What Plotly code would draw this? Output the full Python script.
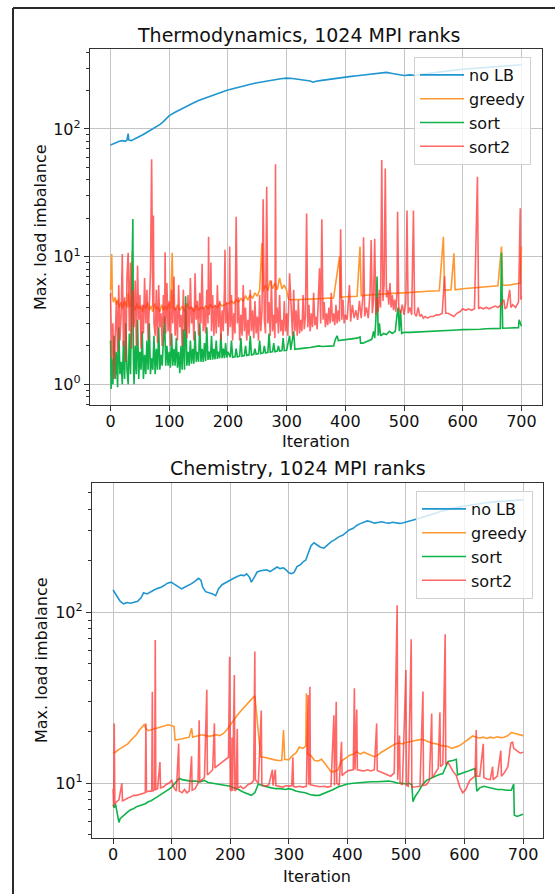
import plotly.graph_objects as go

W, H = 555, 894

# ---------------- data: Thermodynamics (top) ----------------
iters_ticks = [0, 100, 200, 300, 400, 500, 600, 700]

top_nolb = [(0, 75), (5, 77), (10, 78), (15, 80), (20, 81), (25, 80), (28, 82), (30, 92), (31, 82), (35, 81),
            (40, 83), (45, 85), (50, 87), (55, 90), (60, 93), (65, 96), (70, 100), (75, 103), (80, 105),
            (85, 109), (90, 114), (95, 120), (100, 127), (110, 135), (120, 143), (130, 151), (140, 159),
            (150, 167), (160, 174), (170, 181), (180, 188), (190, 195), (200, 202), (210, 208), (220, 214),
            (230, 220), (240, 225), (250, 230), (260, 235), (270, 239), (280, 243), (290, 247), (300, 250),
            (310, 248), (320, 245), (330, 241), (340, 237), (345, 232), (350, 236), (360, 240), (370, 244),
            (380, 248), (390, 252), (400, 256), (410, 258), (420, 261), (430, 264), (440, 267), (450, 270),
            (460, 273), (470, 277), (480, 272), (490, 266), (500, 262), (510, 265), (520, 262), (530, 268),
            (540, 272), (550, 276), (560, 280), (570, 283), (580, 287), (590, 290), (600, 293), (620, 298),
            (640, 303), (660, 308), (680, 313), (700, 318)]

top_greedy = [(0, 5.5), (2, 10.5), (3, 5.0), (5, 4.4), (8, 4.8), (10, 4.2), (12, 4.6), (15, 4.0), (18, 4.4),
              (20, 3.9), (24, 4.5), (28, 4.0), (30, 5.2), (32, 4.0), (35, 4.3), (37, 11.0), (39, 4.2),
              (42, 3.8), (45, 4.3), (48, 3.9), (51, 4.1), (54, 3.7), (57, 4.2), (60, 3.9), (63, 4.4),
              (66, 3.8), (69, 4.1), (72, 3.7), (75, 4.3), (78, 3.9), (81, 4.0), (84, 3.7), (87, 4.2),
              (90, 3.8), (93, 4.1), (96, 3.8), (99, 4.3), (102, 3.9), (105, 10.7), (107, 4.0), (110, 3.8),
              (114, 4.2), (118, 3.8), (122, 4.1), (126, 3.7), (130, 4.3), (134, 3.9), (138, 4.0), (142, 3.7),
              (146, 4.2), (150, 3.8), (154, 4.0), (158, 3.9), (162, 4.1), (166, 3.9), (170, 4.2), (174, 4.0),
              (178, 4.1), (182, 4.0), (186, 4.3), (190, 4.1), (194, 4.2), (198, 4.3), (202, 4.3), (206, 4.5),
              (210, 4.3), (214, 4.6), (218, 4.4), (222, 4.7), (226, 4.5), (230, 4.9), (234, 4.6), (238, 5.0),
              (242, 4.7), (246, 5.2), (250, 4.9), (254, 5.5), (258, 12.8), (260, 5.3), (264, 6.0), (268, 5.4),
              (272, 6.5), (276, 5.6), (280, 6.2), (284, 5.5), (288, 6.8), (292, 5.6), (296, 6.0), (300, 5.4),
              (303, 4.7), (306, 4.6), (310, 4.6), (320, 4.6), (340, 4.65), (360, 4.7), (380, 4.75),
              (390, 10.0), (392, 4.8), (400, 4.85), (420, 4.9), (425, 12.0), (427, 4.95), (440, 5.0),
              (460, 5.1), (480, 5.15), (500, 5.2), (520, 5.3), (540, 5.35), (560, 5.4), (567, 14.3),
              (569, 5.45), (580, 5.5), (585, 10.6), (587, 5.5), (600, 5.6), (620, 5.7), (640, 5.8),
              (660, 5.9), (666, 12.0), (668, 5.95), (680, 6.0), (690, 6.1), (698, 6.2), (700, 12.0)]

top_sort = [(0, 2.2), (1, 0.92), (2, 1.6), (4, 1.0), (6, 2.4), (8, 1.1), (10, 1.8), (12, 0.95), (14, 2.8),
            (16, 1.2), (18, 1.5), (20, 1.0), (22, 2.2), (24, 1.1), (26, 3.0), (28, 1.3), (30, 1.0), (32, 2.5),
            (34, 1.2), (36, 4.8), (38, 19.7), (39, 1.5), (40, 1.0), (42, 2.0), (44, 1.2), (46, 3.2), (48, 1.1),
            (50, 1.8), (52, 1.3), (54, 2.6), (56, 1.1), (58, 1.7), (60, 1.2), (62, 2.2), (64, 1.3), (66, 3.0),
            (68, 1.2), (70, 1.6), (72, 1.3), (74, 2.4), (76, 1.2), (78, 1.9), (80, 1.3), (82, 2.8), (84, 1.3),
            (86, 1.7), (88, 1.4), (90, 2.2), (92, 3.4), (94, 1.4), (96, 2.0), (98, 1.4), (100, 1.8),
            (102, 1.35), (104, 2.5), (106, 1.4), (108, 1.9), (110, 1.4), (112, 2.3), (114, 1.35), (116, 1.8),
            (118, 1.22), (120, 2.0), (122, 1.3), (124, 2.7), (126, 1.3), (128, 4.9), (130, 1.4), (132, 1.8),
            (134, 1.4), (136, 2.2), (138, 1.45), (140, 1.9), (142, 1.45), (144, 2.6), (146, 1.5), (148, 1.8),
            (150, 1.5), (152, 3.0), (154, 1.5), (156, 1.9), (158, 1.5), (160, 2.1), (162, 1.52), (164, 2.8),
            (166, 1.55), (168, 1.8), (170, 1.55), (172, 2.4), (174, 1.56), (176, 1.9), (178, 1.57),
            (180, 2.2), (182, 1.58), (184, 1.8), (186, 1.6), (188, 2.5), (190, 1.6), (192, 1.9), (194, 1.6),
            (196, 2.1), (198, 1.62), (200, 1.8), (204, 1.63), (206, 2.2), (208, 1.63), (212, 1.64),
            (214, 1.9), (216, 1.64), (220, 1.66), (222, 2.3), (224, 1.66), (228, 1.68), (230, 2.0),
            (232, 1.68), (236, 1.7), (238, 2.4), (240, 1.7), (244, 1.72), (246, 1.9), (248, 1.72),
            (252, 1.74), (254, 2.2), (256, 1.74), (260, 1.76), (262, 2.0), (264, 1.76), (268, 1.78),
            (270, 2.5), (272, 1.78), (276, 1.8), (278, 2.1), (280, 1.8), (284, 1.82), (286, 2.0), (288, 1.82),
            (292, 1.84), (294, 2.3), (296, 1.84), (300, 1.85), (305, 2.4), (307, 1.86), (312, 2.6),
            (314, 1.88), (320, 1.9), (330, 1.92), (340, 1.94), (350, 1.97), (355, 2.0), (360, 1.98),
            (370, 2.0), (380, 2.0), (383, 2.25), (386, 2.4), (388, 2.2), (395, 2.22), (400, 2.25),
            (410, 2.28), (420, 2.3), (425, 2.35), (426, 2.1), (430, 2.1), (435, 2.15), (440, 2.18),
            (445, 2.25), (448, 2.6), (450, 2.3), (452, 3.2), (454, 7.0), (456, 2.4), (458, 3.0), (460, 2.4),
            (465, 2.5), (470, 2.45), (475, 2.6), (480, 2.5), (485, 2.6), (488, 3.5), (490, 4.0), (492, 2.6),
            (494, 3.8), (496, 2.5), (500, 2.55), (510, 2.55), (520, 2.56), (530, 2.58), (540, 2.6),
            (550, 2.6), (560, 2.62), (570, 2.64), (580, 2.65), (590, 2.66), (600, 2.68), (610, 2.68),
            (620, 2.7), (630, 2.7), (640, 2.72), (650, 2.72), (660, 2.74), (664, 2.74), (666, 10.7),
            (668, 2.75), (680, 2.76), (690, 2.76), (695, 2.78), (696, 3.2), (698, 3.0), (700, 2.85)]

top_sort2 = [(0, 5.2), (2, 1.6), (4, 3.0), (6, 1.1), (8, 2.4), (10, 4.5), (12, 1.8), (14, 6.0), (16, 2.2),
             (18, 3.5), (20, 10.5), (22, 2.0), (24, 4.8), (26, 1.5), (28, 7.0), (30, 10.7), (32, 2.6),
             (34, 9.0), (36, 1.9), (38, 5.5), (40, 2.8), (42, 6.5), (44, 2.0), (46, 8.5), (48, 3.2), (50, 5.0),
             (52, 1.9), (54, 4.2), (56, 2.5), (58, 6.8), (60, 3.0), (62, 5.5), (64, 2.2), (66, 4.0), (68, 7.5),
             (70, 57.8), (72, 4.0), (73, 21.0), (74, 3.0), (76, 2.4), (78, 5.5), (80, 2.1), (82, 6.0),
             (84, 2.8), (86, 3.6), (88, 2.0), (90, 5.0), (92, 3.0), (93, 10.8), (94, 2.5), (96, 6.2),
             (98, 2.6), (100, 4.5), (102, 2.0), (104, 5.5), (106, 3.0), (108, 7.0), (110, 2.4), (112, 4.0),
             (114, 2.2), (116, 6.0), (118, 2.8), (120, 3.5), (122, 2.0), (124, 5.5), (126, 2.6), (128, 4.2),
             (130, 2.3), (132, 5.0), (134, 2.5), (136, 6.8), (138, 3.0), (140, 4.0), (142, 2.2), (144, 7.4),
             (146, 3.2), (148, 4.5), (150, 2.4), (152, 5.2), (154, 3.0), (156, 8.8), (158, 2.6), (160, 4.0),
             (162, 2.5), (164, 5.5), (166, 3.0), (167, 14.3), (168, 3.5), (170, 4.8), (171, 9.0), (172, 2.6),
             (174, 5.0), (176, 2.4), (178, 4.2), (180, 2.5), (182, 6.0), (184, 2.8), (186, 4.5), (188, 2.2),
             (190, 3.8), (192, 2.6), (194, 5.5), (195, 11.3), (196, 3.0), (198, 4.4), (200, 2.4), (202, 4.0),
             (203, 12.0), (204, 2.8), (206, 5.0), (208, 2.2), (210, 3.6), (212, 2.5), (214, 20.5), (216, 3.0),
             (218, 4.8), (220, 2.2), (222, 3.5), (224, 2.4), (226, 6.0), (228, 2.6), (230, 4.0), (232, 2.2),
             (234, 3.2), (236, 2.4), (238, 5.5), (240, 2.6), (242, 3.8), (244, 2.3), (246, 4.5), (248, 2.5),
             (250, 3.4), (252, 2.2), (254, 5.0), (256, 2.6), (258, 3.8), (260, 28.1), (262, 3.2), (264, 2.5),
             (266, 35.2), (268, 3.0), (270, 4.4), (272, 2.4), (274, 6.5), (276, 2.6), (278, 3.5), (280, 2.3),
             (281, 53.0), (282, 3.0), (284, 4.0), (286, 2.5), (288, 5.0), (290, 2.6), (292, 3.2), (294, 2.4),
             (296, 4.5), (298, 2.6), (300, 3.6), (302, 2.4), (305, 7.4), (308, 3.0), (310, 2.4), (312, 5.5),
             (314, 2.6), (316, 3.8), (318, 2.4), (320, 4.6), (322, 2.5), (324, 3.2), (326, 2.6), (328, 5.0),
             (330, 2.7), (332, 3.4), (334, 21.8), (336, 2.8), (338, 4.2), (340, 2.6), (342, 3.6), (344, 2.8),
             (346, 5.2), (348, 2.9), (350, 3.4), (352, 2.7), (354, 4.8), (356, 8.1), (358, 3.0), (360, 19.6),
             (362, 3.2), (364, 4.4), (366, 2.8), (368, 3.6), (370, 2.9), (372, 4.0), (374, 3.0), (376, 5.2),
             (378, 3.1), (380, 3.6), (382, 2.9), (384, 4.2), (386, 3.0), (388, 3.8), (390, 3.1), (392, 16.4),
             (394, 3.2), (396, 4.6), (398, 3.0), (400, 3.5), (403, 3.2), (406, 5.0), (407, 6.0), (409, 3.1),
             (412, 4.2), (415, 3.3), (418, 3.8), (421, 3.2), (424, 4.5), (427, 3.3), (430, 5.0), (431, 14.2),
             (433, 3.4), (436, 4.0), (439, 3.3), (442, 5.2), (444, 13.5), (446, 3.6), (448, 4.6), (450, 13.8),
             (452, 3.5), (454, 4.8), (456, 3.7), (458, 5.5), (460, 4.0), (462, 57.0), (464, 4.5), (466, 6.0),
             (468, 49.0), (470, 4.8), (472, 5.5), (474, 4.2), (476, 6.2), (478, 4.0), (480, 5.0), (482, 3.8),
             (484, 4.6), (486, 3.7), (488, 5.2), (489, 22.5), (491, 4.0), (494, 3.6), (497, 4.2), (500, 3.5),
             (503, 4.4), (505, 23.0), (507, 3.6), (510, 4.0), (513, 3.5), (516, 23.0), (518, 3.6), (521, 3.4),
             (524, 4.0), (527, 3.4), (530, 3.5), (533, 3.3), (536, 3.4), (540, 3.3), (545, 3.4), (550, 3.4),
             (555, 3.5), (560, 3.5), (565, 3.6), (569, 7.0), (571, 3.6), (575, 3.6), (580, 3.5), (585, 3.4),
             (590, 3.6), (595, 3.7), (600, 3.9), (605, 3.8), (610, 3.9), (615, 3.8), (620, 3.9), (625, 42.2),
             (627, 3.9), (630, 4.0), (635, 3.9), (640, 4.0), (645, 3.9), (650, 4.0), (655, 4.1), (660, 4.0),
             (665, 4.2), (670, 4.6), (672, 3.9), (675, 4.0), (680, 5.5), (682, 4.0), (685, 4.2), (690, 4.0),
             (695, 4.4), (698, 23.9), (699, 4.6), (700, 4.9)]

# ---------------- data: Chemistry (bottom) ----------------
bot_nolb = [(0, 135), (4, 128), (8, 121), (12, 116), (18, 112), (24, 114), (30, 113), (36, 115), (42, 116),
            (48, 122), (52, 130), (58, 128), (64, 132), (70, 135), (76, 138), (82, 140), (88, 144), (93, 148),
            (99, 150), (104, 146), (110, 141), (117, 137), (122, 140), (128, 143), (134, 147), (140, 152),
            (146, 158), (150, 154), (153, 140), (158, 132), (164, 130), (170, 128), (175, 125), (180, 137),
            (186, 145), (193, 150), (200, 155), (206, 158), (212, 162), (218, 165), (224, 164), (228, 168),
            (233, 160), (236, 150), (240, 158), (246, 172), (252, 175), (258, 176), (262, 177), (268, 173),
            (274, 178), (280, 184), (285, 180), (291, 182), (296, 176), (300, 170), (305, 168), (309, 171),
            (314, 185), (320, 190), (325, 198), (329, 202), (334, 225), (338, 245), (343, 255), (348, 248),
            (354, 240), (360, 237), (366, 248), (372, 258), (378, 265), (386, 277), (392, 282), (398, 295),
            (403, 303), (410, 310), (416, 322), (422, 330), (428, 336), (434, 342), (440, 338), (446, 332),
            (452, 335), (459, 338), (465, 334), (471, 332), (477, 336), (483, 333), (489, 331), (494, 333),
            (500, 336), (506, 342), (511, 345), (520, 352), (530, 360), (540, 370), (551, 380), (560, 390),
            (570, 398), (580, 406), (590, 412), (600, 418), (610, 424), (620, 430), (640, 438), (660, 445),
            (680, 450), (700, 454)]

bot_greedy = [(0, 15.0), (5, 15.3), (10, 15.8), (15, 16.2), (20, 16.5), (25, 17.0), (30, 17.8), (35, 18.5),
              (40, 19.3), (45, 20.5), (50, 21.5), (53, 22.0), (56, 21.0), (60, 20.3), (64, 20.5), (70, 20.8),
              (76, 21.0), (82, 21.3), (88, 21.8), (94, 22.0), (100, 21.7), (104, 21.5), (106, 17.9),
              (112, 18.0), (118, 18.2), (124, 18.4), (130, 18.6), (134, 21.0), (136, 18.6), (140, 18.8),
              (146, 19.0), (152, 19.2), (158, 19.0), (164, 18.8), (170, 19.0), (176, 19.2), (182, 19.0),
              (188, 19.5), (194, 20.5), (200, 22.0), (206, 23.5), (212, 25.0), (218, 26.5), (224, 28.0),
              (230, 29.5), (236, 31.0), (240, 32.0), (242, 32.5), (246, 23.0), (250, 15.5), (252, 14.3),
              (258, 14.2), (264, 14.0), (270, 13.8), (276, 13.7), (282, 13.6), (288, 13.6), (291, 20.5),
              (293, 13.8), (300, 13.7), (306, 14.5), (312, 15.0), (318, 16.3), (324, 16.0), (329, 16.5),
              (330, 33.6), (332, 14.8), (338, 14.5), (344, 13.6), (350, 13.5), (356, 13.8), (362, 13.0),
              (368, 12.2), (372, 11.7), (378, 11.7), (384, 12.0), (390, 13.5), (396, 14.0), (404, 14.6),
              (410, 14.8), (416, 15.3), (422, 14.8), (428, 15.2), (434, 14.9), (440, 14.6), (446, 14.3),
              (452, 14.6), (458, 15.2), (464, 15.6), (470, 16.0), (476, 16.5), (482, 17.0), (488, 17.2),
              (494, 17.0), (500, 17.3), (508, 17.6), (516, 17.8), (524, 18.0), (530, 18.0), (536, 17.6),
              (544, 17.2), (552, 17.0), (560, 16.6), (566, 16.5), (572, 16.4), (578, 16.0), (584, 16.2),
              (590, 16.5), (596, 17.0), (602, 17.6), (608, 18.2), (614, 18.9), (620, 18.6), (626, 18.4),
              (632, 18.6), (638, 18.3), (644, 18.6), (650, 18.4), (656, 18.7), (662, 18.5), (668, 18.6),
              (674, 19.0), (680, 19.8), (686, 19.5), (692, 19.2), (700, 19.0)]

bot_sort = [(0, 7.5), (2, 7.2), (4, 7.6), (6, 7.0), (8, 6.2), (10, 5.9), (12, 6.2), (16, 6.4), (20, 6.6),
            (25, 6.8), (30, 7.0), (35, 7.1), (40, 7.3), (45, 7.4), (50, 7.5), (55, 7.6), (60, 7.8), (65, 7.9),
            (70, 8.1), (75, 8.3), (80, 8.5), (85, 8.7), (90, 8.9), (95, 9.2), (100, 9.5), (105, 10.0),
            (110, 10.4), (113, 10.7), (118, 10.5), (125, 10.4), (132, 10.3), (140, 10.3), (148, 10.2),
            (156, 10.4), (162, 10.1), (170, 10.0), (178, 9.9), (186, 9.8), (194, 9.7), (200, 9.6), (206, 9.4),
            (214, 9.2), (222, 8.9), (230, 8.7), (236, 8.5), (242, 8.8), (248, 9.9), (254, 9.7), (262, 9.5),
            (270, 9.4), (278, 9.3), (286, 9.3), (294, 9.2), (300, 9.3), (306, 9.2), (312, 9.0), (320, 8.9),
            (328, 8.8), (336, 8.6), (344, 8.5), (352, 8.5), (360, 8.7), (368, 9.0), (376, 9.2), (384, 9.5),
            (392, 9.7), (400, 9.9), (410, 10.0), (420, 10.1), (430, 10.1), (440, 10.2), (450, 10.2),
            (460, 10.3), (470, 10.3), (478, 10.2), (486, 10.0), (494, 10.0), (500, 9.9), (506, 10.0),
            (510, 9.8), (512, 7.8), (516, 8.4), (522, 9.0), (528, 9.8), (535, 10.4), (542, 10.7), (550, 11.0),
            (556, 11.2), (563, 11.4), (568, 12.5), (572, 13.4), (580, 13.6), (586, 13.8), (588, 11.2),
            (596, 11.4), (604, 11.7), (612, 12.0), (618, 12.2), (621, 9.0), (626, 9.4), (633, 9.6),
            (640, 9.5), (648, 9.3), (656, 9.2), (664, 9.2), (672, 9.1), (680, 9.1), (684, 9.9), (685, 6.5),
            (690, 6.4), (695, 6.5), (700, 6.6)]

bot_sort2 = [(0, 9.3), (1, 7.3), (2, 22.4), (3, 7.6), (6, 7.8), (10, 8.0), (15, 10.0), (16, 7.9), (20, 8.0),
             (25, 8.2), (30, 8.3), (35, 8.5), (40, 8.5), (45, 8.6), (50, 8.7), (55, 8.8), (56, 22.4), (57, 8.9),
             (62, 9.0), (66, 9.0), (67, 34.3), (68, 9.0), (71, 9.2), (72, 68.9), (73, 9.2), (76, 9.3),
             (80, 13.3), (81, 9.4), (86, 9.5), (90, 9.8), (95, 10.0), (100, 10.4), (104, 9.4), (108, 9.0),
             (112, 17.1), (113, 9.0), (118, 8.8), (122, 9.2), (126, 8.8), (130, 9.0), (134, 14.4), (135, 9.1),
             (140, 9.3), (145, 10.0), (147, 23.4), (148, 10.2), (152, 10.5), (156, 10.8), (160, 35.2),
             (161, 11.2), (166, 11.6), (170, 12.0), (173, 22.4), (174, 12.3), (180, 12.8), (186, 13.3),
             (192, 13.8), (197, 14.2), (199, 55.0), (200, 9.2), (202, 9.0), (203, 18.5), (204, 9.0),
             (207, 43.0), (208, 9.0), (210, 9.2), (212, 20.8), (213, 9.4), (218, 9.6), (222, 9.3), (226, 9.5),
             (230, 9.8), (236, 10.0), (240, 10.4), (242, 58.9), (243, 10.5), (248, 10.0), (253, 26.6),
             (254, 9.8), (260, 9.6), (266, 9.8), (272, 12.0), (273, 9.7), (277, 12.0), (278, 9.7), (284, 9.6),
             (290, 9.5), (296, 9.7), (300, 9.6), (305, 9.7), (307, 14.2), (308, 9.6), (312, 9.5), (318, 9.6),
             (324, 9.5), (330, 9.6), (333, 32.8), (334, 9.8), (336, 36.7), (337, 9.8), (342, 9.7), (348, 9.6),
             (353, 9.55), (360, 9.6), (366, 9.5), (372, 9.6), (376, 24.5), (377, 25.0), (378, 9.7),
             (381, 30.0), (382, 10.0), (386, 9.7), (390, 17.5), (391, 11.1), (396, 11.5), (400, 11.8),
             (404, 11.9), (410, 12.0), (412, 35.9), (413, 12.0), (416, 27.0), (417, 12.0), (422, 11.9),
             (428, 11.8), (434, 12.0), (440, 11.8), (446, 12.0), (450, 22.4), (451, 11.9), (456, 11.7),
             (462, 11.4), (468, 11.2), (474, 11.0), (480, 11.5), (485, 110.0), (486, 10.5), (489, 19.0),
             (490, 10.0), (494, 9.8), (500, 46.0), (501, 9.7), (504, 9.6), (509, 69.5), (510, 9.5),
             (514, 9.5), (518, 9.55), (524, 9.6), (529, 34.4), (530, 9.7), (535, 9.8), (540, 10.4),
             (544, 25.6), (545, 10.8), (550, 11.5), (555, 12.2), (558, 26.0), (559, 12.5), (563, 12.9),
             (567, 74.3), (568, 13.0), (572, 13.2), (576, 12.5), (580, 11.8), (586, 11.1), (592, 9.5),
             (597, 8.8), (602, 9.2), (609, 10.4), (614, 10.8), (618, 11.0), (620, 20.5), (621, 11.0),
             (626, 11.0), (632, 17.0), (633, 10.8), (638, 10.6), (644, 10.5), (648, 12.5), (649, 10.5),
             (656, 11.0), (662, 15.5), (663, 11.0), (668, 11.5), (674, 12.5), (679, 17.1), (682, 17.5),
             (684, 16.0), (690, 15.5), (695, 15.0), (700, 15.2)]

series_names = ["no LB", "greedy", "sort", "sort2"]
colors = ["#1f96cf", "#ff9830", "#0fb34a", "rgba(255,45,45,0.72)"]

top_title = "Thermodynamics, 1024 MPI ranks"
bot_title = "Chemistry, 1024 MPI ranks"
x_label = "Iteration"
y_label = "Max. load imbalance"

FONT = "DejaVu Sans, Verdana, sans-serif"

fig = go.Figure()


def add(series, name, color, xa, ya, legend, showlegend=True):
    xs = [p[0] for p in series]
    ys = [p[1] for p in series]
    fig.add_trace(go.Scatter(x=xs, y=ys, mode="lines", name=name,
                             line=dict(color=color, width=1.6),
                             xaxis=xa, yaxis=ya, legend=legend, showlegend=showlegend))


for s, n, c in zip([top_nolb, top_greedy, top_sort, top_sort2], series_names, colors):
    add(s, n, c, "x", "y", "legend")
for s, n, c in zip([bot_nolb, bot_greedy, bot_sort, bot_sort2], series_names, colors):
    add(s, n, c, "x2", "y2", "legend2")


def px_x(p):
    return p / W


def px_y(p):
    return 1 - p / H


grid = "#c4c4c4"
axcol = "#333333"

common_x = dict(tickvals=iters_ticks, ticktext=[str(v) for v in iters_ticks], showgrid=True,
                gridcolor=grid, gridwidth=1.2, zeroline=False, showline=True, linecolor=axcol,
                linewidth=1.3, mirror=True, ticks="outside", ticklen=5, tickcolor=axcol,
                ticklabelstandoff=-3,
                tickfont=dict(family=FONT, size=16, color="#111"))
common_y = dict(type="log", showgrid=True, gridcolor=grid, gridwidth=1.2, zeroline=False,
                showline=True, linecolor=axcol, linewidth=1.3, mirror=True, ticks="outside",
                ticklen=5, tickcolor=axcol, tickfont=dict(family=FONT, size=16, color="#111"))

top_minor = [0.7, 0.8, 0.9] + [k for k in range(2, 10)] + [10 * k for k in range(2, 10)] + [200, 300, 400]
bot_minor = [5, 6, 7, 8, 9] + [10 * k for k in range(2, 10)] + [200, 300, 400, 500]

legend_style = dict(xanchor="left", yanchor="top", bgcolor="rgba(255,255,255,0.8)",
                    bordercolor="#d0d0d0", borderwidth=1, itemwidth=44,
                    font=dict(family=FONT, size=16, color="#111"), tracegroupgap=0)

fig.update_layout(
    width=W, height=H, margin=dict(l=0, r=0, t=0, b=0),
    paper_bgcolor="white", plot_bgcolor="white",
    xaxis=dict(domain=[px_x(90), px_x(542)], range=[-35, 735], anchor="y", **common_x),
    yaxis=dict(domain=[px_y(405), px_y(49)], range=[-0.162, 2.626], anchor="x",
               tickvals=[1, 10, 100], ticktext=["10<sup>0</sup>", "10<sup>1</sup>", "10<sup>2</sup>"],
               minor=dict(tickvals=top_minor, ticks="outside", ticklen=3, tickcolor=axcol, showgrid=False),
               **common_y),
    xaxis2=dict(domain=[px_x(92), px_x(543)], range=[-36, 734], anchor="y2", **common_x),
    yaxis2=dict(domain=[px_y(838), px_y(483)], range=[0.68, 2.756], anchor="x2",
                tickvals=[10, 100], ticktext=["10<sup>1</sup>", "10<sup>2</sup>"],
                minor=dict(tickvals=bot_minor, ticks="outside", ticklen=3, tickcolor=axcol, showgrid=False),
                **common_y),
    legend=dict(x=px_x(414), y=px_y(57), **legend_style),
    legend2=dict(x=px_x(416), y=px_y(491), **legend_style),
    showlegend=True,
)

ann_font = dict(family=FONT, size=16, color="#111")
annotations = [
    dict(text=top_title, x=px_x(298), y=px_y(35), font=dict(family=FONT, size=19, color="#111")),
    dict(text=bot_title, x=px_x(298), y=px_y(468), font=dict(family=FONT, size=19, color="#111")),
    dict(text=x_label, x=px_x(316), y=px_y(441), font=ann_font),
    dict(text=x_label, x=px_x(317), y=px_y(876), font=ann_font),
    dict(text=y_label, x=px_x(40), y=px_y(227), textangle=-90, font=ann_font),
    dict(text=y_label, x=px_x(41), y=px_y(660), textangle=-90, font=ann_font),
]
for a in annotations:
    fig.add_annotation(xref="paper", yref="paper", showarrow=False, xanchor="center", yanchor="middle", **a)

# outer frame of the figure image
fig.add_shape(type="line", xref="paper", yref="paper", x0=px_x(13), y0=px_y(8), x1=px_x(13), y1=px_y(900),
              line=dict(color="#2a2a2a", width=2))
fig.add_shape(type="line", xref="paper", yref="paper", x0=px_x(13), y0=px_y(8), x1=px_x(560), y1=px_y(8),
              line=dict(color="#2a2a2a", width=2))

fig.write_html("out.html")
